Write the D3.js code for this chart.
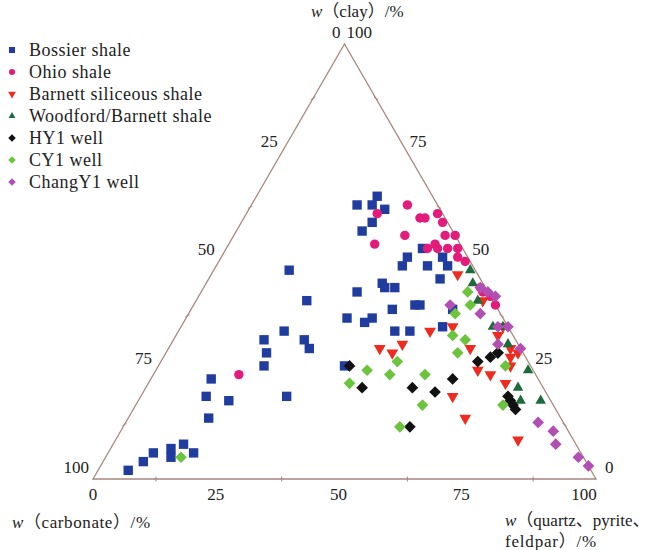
<!DOCTYPE html>
<html>
<head>
<meta charset="utf-8">
<script src="https://cdn.jsdelivr.net/npm/d3@7"></script>
<style>
  html, body { margin: 0; padding: 0; background: #fff; }
  svg text { font-family: "Liberation Serif", "Times New Roman", "Noto Sans CJK SC", serif; fill: #222; }
</style>
</head>
<body>
<div id="chart"></div>
<script>
// each point is [quartz, clay] in %, carbonate = 100 - quartz - clay
var bossier = [
    [24,65],[24,63],[21,63],[27,62],[26,59],[25,57],[39,53],[37,51],[37,49],[42,49],
    [44,51],[46,49],[46,46],[35,45],[36,44],[38,44],[31,43],[44,40],[45,40],[40,39],
    [32,37],[37,37],[36,36],[43,34],[46,34],[52,35],[52,39],[15,48],[22,41],[21,34],
    [18,32],[26,32],[28,30],[20,29],[21,26],[12,23],[29,19],[13,19],[18,18],[16,14],
    [14,8],[17,6],[12,7],[9,6],[13,5],[8,4],[6,2],[37,26]
];
var ohio = [
    [31,63],[26,61],[35,60],[36,60],[38,61],[40,59],[29,54],[34,56],[41,54],[40,53],
    [42,53],[42,56],[44,56],[44,53],[46,53],[47,51],[49,50],[55,44],[56,43],[58,42],
    [60,40],[17,24]
];
var barnett = [
    [49,47],[57,41],[54,35],[50,34],[42,30],[45,29],[46,31],[60,30],[64,25],[67,24],
    [62,19],[67,14],[64,35],[64,33],[68,30],[70,29],[69,28],[70,26],[71,22],[80,9]
];
var woodford = [
    [51,48],[53,45],[56,41],[62,35],[67,31],[74,25],[74,21],[76,18],[80,18],[64,35]
];
var hy1 = [
    [38,26],[43,21],[53,21],[58,20],[60,23],[57,12],[63,27],[65,28],[66,29],[66,29],
    [73,19],[74,18],[75,17],[76,16]
];
var cy1 = [
    [40,22],[42,25],[47,24],[54,24],[47,27],[55,33],[58,32],[58,29],[57,17],[55,12],
    [53,43],[55,40],[53,38],[69,26],[73,17],[15,5]
];
var changy1 = [
    [51,40],[58,38],[65,35],[65,31],[70,30],[82,13],[86,11],[88,8],[94,5],[97,3],
    [55,44],[57,43],[63,35],[59,42]
];

var seriesNames = ["Bossier shale", "Ohio shale", "Barnett siliceous shale",
    "Woodford/Barnett shale", "HY1 well", "CY1 well", "ChangY1 well"];
var tickValues = [0, 25, 50, 75, 100];
var minorTicks = [12.5, 37.5, 62.5, 87.5];

var WIDTH = 656, HEIGHT = 550;

var svg = d3.select("#chart").append("svg")
    .attr("width", WIDTH)
    .attr("height", HEIGHT)
    .style("background", "#fff");

// horizontal position runs on quartz + clay/2, vertical on clay
var xs = d3.scaleLinear().domain([0, 100]).range([93, 596]);
var ys = d3.scaleLinear().domain([0, 100]).range([479, 44]);

function pos(q, c) {
    return [xs(q + c / 2), ys(c)];
}

var edgeColor = "#a8877c";

// triangle frame
var corners = [pos(0, 0), pos(100, 0), pos(0, 100)];
svg.append("path")
    .attr("d", d3.line()(corners) + "Z")
    .style("fill", "none")
    .style("stroke", edgeColor)
    .style("stroke-width", 1.3);

// small ticks on the three edges
var tickPts = [];
minorTicks.forEach(function(v) {
    tickPts.push({ p: pos(v, 0), a: 90 });
    tickPts.push({ p: pos(0, v), a: -30 });
    tickPts.push({ p: pos(100 - v, v), a: 30 });
});
svg.selectAll("line.tick").data(tickPts).enter().append("line")
    .attr("class", "tick")
    .attr("x1", function(d) { return d.p[0] - 2.5 * Math.cos(d.a * Math.PI / 180); })
    .attr("y1", function(d) { return d.p[1] - 2.5 * Math.sin(d.a * Math.PI / 180); })
    .attr("x2", function(d) { return d.p[0] + 2.5 * Math.cos(d.a * Math.PI / 180); })
    .attr("y2", function(d) { return d.p[1] + 2.5 * Math.sin(d.a * Math.PI / 180); })
    .style("stroke", edgeColor)
    .style("stroke-width", 1);

// tick labels
var labelSize = 17;

// left edge: carbonate, 0 at apex to 100 at bottom left
svg.selectAll("text.left").data(tickValues).enter().append("text")
    .attr("class", "left")
    .attr("x", function(v) { return pos(0, 100 - v)[0] - 4; })
    .attr("y", function(v) { return pos(0, 100 - v)[1] - 12; })
    .attr("dy", "0.35em")
    .attr("text-anchor", "end")
    .style("font-size", labelSize + "px")
    .text(function(v) { return v; });

// right edge: clay, 100 at apex to 0 at bottom right
svg.selectAll("text.right").data(tickValues).enter().append("text")
    .attr("class", "right")
    .attr("x", function(v) { return pos(100 - v, v)[0] + 2 + (v === 0 ? 7 : 0); })
    .attr("y", function(v) { return pos(100 - v, v)[1] - 12; })
    .attr("dy", "0.35em")
    .attr("text-anchor", "start")
    .style("font-size", labelSize + "px")
    .text(function(v) { return v; });

// bottom edge: quartz
svg.selectAll("text.bottom").data(tickValues).enter().append("text")
    .attr("class", "bottom")
    .attr("x", function(v) { return pos(v, 0)[0] - v * 0.12; })
    .attr("y", 494)
    .attr("dy", "0.35em")
    .attr("text-anchor", "middle")
    .style("font-size", labelSize + "px")
    .text(function(v) { return v; });

// axis titles
function title(x, y, rest) {
    var t = svg.append("text")
        .attr("x", x)
        .attr("y", y)
        .style("font-size", "17px");
    t.append("tspan").style("font-style", "italic").text("w");
    t.append("tspan").text(rest);
    return t;
}
title(311, 17, "（clay）/%");
title(12, 528, "（carbonate）/%").style("letter-spacing", "0.6px");
title(505, 526, "（quartz、pyrite、");
svg.append("text")
    .attr("x", 505)
    .attr("y", 547)
    .style("font-size", "17px")
    .style("letter-spacing", "0.8px")
    .text("feldpar）/%");

// series styles
var diamond = {
    draw: function(ctx, size) {
        var r = Math.sqrt(size / 2);
        ctx.moveTo(0, -r); ctx.lineTo(r, 0); ctx.lineTo(0, r); ctx.lineTo(-r, 0); ctx.closePath();
    }
};
var styles = [
    { data: bossier, color: "#1f3c9e", type: d3.symbolSquare, size: 88, rot: 0 },
    { data: ohio, color: "#e31c7c", type: d3.symbolCircle, size: 70, rot: 0 },
    { data: barnett, color: "#ee2b1e", type: d3.symbolTriangle, size: 60, rot: 180 },
    { data: woodford, color: "#1d6b3a", type: d3.symbolTriangle, size: 48, rot: 0 },
    { data: hy1, color: "#111111", type: diamond, size: 68, rot: 0 },
    { data: cy1, color: "#6cc43c", type: diamond, size: 68, rot: 0 },
    { data: changy1, color: "#b14fb5", type: diamond, size: 68, rot: 0 }
];

styles.forEach(function(s, i) {
    svg.append("g").attr("class", "series-" + i)
        .selectAll("path").data(s.data).enter().append("path")
        .attr("d", d3.symbol().type(s.type).size(s.size))
        .attr("transform", function(d) {
            var p = pos(d[0], d[1]);
            return "translate(" + p[0] + "," + p[1] + ") rotate(" + s.rot + ")";
        })
        .style("fill", s.color);
});

// legend
var legend = svg.append("g").attr("class", "legend");
var rows = legend.selectAll("g").data(styles).enter().append("g")
    .attr("transform", function(d, i) { return "translate(12," + (50 + i * 22) + ")"; });
rows.append("path")
    .attr("d", function(s) { return d3.symbol().type(s.type).size(s.size * 0.42)(); })
    .attr("transform", function(s) { return "rotate(" + s.rot + ")"; })
    .style("fill", function(s) { return s.color; });
rows.append("text")
    .attr("x", 17)
    .attr("dy", "0.35em")
    .style("font-size", "18px")
    .style("letter-spacing", "0.5px")
    .text(function(s, i) { return seriesNames[i]; });
</script>
</body>
</html>
